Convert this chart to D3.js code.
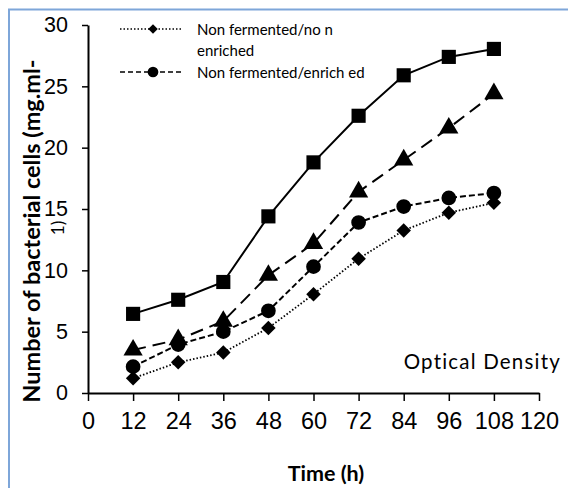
<!DOCTYPE html>
<html>
<head>
<meta charset="utf-8">
<script src="https://cdn.jsdelivr.net/npm/d3@7"></script>
<style>
  html, body { margin: 0; padding: 0; background: #fff; }
  svg { display: block; }
</style>
</head>
<body>
<svg id="chart" width="568" height="488"></svg>
<script>
// ---- data ----
const hours = [12, 24, 36, 48, 60, 72, 84, 96, 108];
const squareSeries   = [6.45, 7.6, 9.05, 14.4, 18.8, 22.6, 25.9, 27.4, 28.05];
const triangleSeries = [3.5, 4.35, 5.85, 9.6, 12.2, 16.4, 19.0, 21.6, 24.4];
const circleSeries   = [2.15, 3.95, 5.0, 6.7, 10.3, 13.9, 15.2, 15.9, 16.3];
const diamondSeries  = [1.2, 2.5, 3.3, 5.3, 8.05, 10.95, 13.25, 14.7, 15.5];
const xTicks = [0, 12, 24, 36, 48, 60, 72, 84, 96, 108, 120];
const yTicks = [0, 5, 10, 15, 20, 25, 30];
const legendLabels = [["Non fermented/no n", "enriched"], ["Non fermented/enrich ed"]];

const svg = d3.select("#chart");

// frame
svg.append("rect").attr("x", 9).attr("y", 9.5).attr("width", 700).attr("height", 700)
  .attr("fill", "none").attr("stroke", "#7ea6d9").attr("stroke-width", 2);

const x = d3.scaleLinear().domain([0, 120]).range([88, 539]);
const y = d3.scaleLinear().domain([0, 30]).range([393, 25]);

// axes
const xAxis = svg.append("g").attr("transform", "translate(0,393)")
  .call(d3.axisBottom(x).tickValues(xTicks).tickSize(8).tickPadding(11).tickSizeOuter(0));
xAxis.select(".domain").attr("stroke", "#000").attr("stroke-width", 2);
xAxis.selectAll(".tick line").attr("stroke", "#000").attr("stroke-width", 1.5);
xAxis.selectAll(".tick text").attr("font-family", "Liberation Sans, Arial, sans-serif")
  .attr("font-size", 23.5).attr("fill", "#000");

const yAxis = svg.append("g").attr("transform", "translate(88,0)")
  .call(d3.axisLeft(y).tickValues(yTicks).tickSize(6).tickPadding(14).tickSizeOuter(0));
yAxis.select(".domain").attr("stroke", "#000").attr("stroke-width", 2);
yAxis.selectAll(".tick text").attr("font-family", "Liberation Sans, Arial, sans-serif")
  .attr("font-size", 21.5).attr("fill", "#000");
yAxis.selectAll(".tick line").attr("stroke", "#000").attr("stroke-width", 1.5);

// series
const diamond = size => d3.symbol().type(d3.symbolSquare).size(size)();
const series = [
  { vals: squareSeries,   dash: null,    sym: d3.symbolSquare,   size: 200, w: 2, rot: 0 },
  { vals: triangleSeries, dash: "13,7",  sym: d3.symbolTriangle, size: 160, w: 2, rot: 0 },
  { vals: circleSeries,   dash: "6,3",   sym: d3.symbolCircle,   size: 170, w: 2, rot: 0 },
  { vals: diamondSeries,  dash: "1.5,2", sym: d3.symbolSquare,   size: 105, w: 1.8, rot: 45 }
];
const line = d3.line().x((d, i) => x(hours[i])).y(d => y(d));
series.forEach(s => {
  svg.append("path").datum(s.vals).attr("d", line).attr("fill", "none")
    .attr("stroke", "#000").attr("stroke-width", s.w)
    .attr("stroke-dasharray", s.dash);
  svg.append("g").selectAll("path").data(s.vals).join("path")
    .attr("transform", (d, i) => `translate(${x(hours[i])},${y(d)}) rotate(${s.rot})`)
    .attr("d", d3.symbol().type(s.sym).size(s.size)).attr("fill", "#000");
});

// legend
const lg = svg.append("g");
const legendItems = [
  { dash: "1.5,2", sym: d3.symbolSquare, rot: 45, size: 45, ly: 29, lines: legendLabels[0], base: [35, 56] },
  { dash: "5,3",   sym: d3.symbolCircle, rot: 0,  size: 90, ly: 72, lines: legendLabels[1], base: [78] }
];
legendItems.forEach(it => {
  lg.append("line").attr("x1", 120).attr("x2", 183).attr("y1", it.ly).attr("y2", it.ly)
    .attr("stroke", "#000").attr("stroke-width", 1.5).attr("stroke-dasharray", it.dash);
  lg.append("path").attr("transform", `translate(153,${it.ly}) rotate(${it.rot})`)
    .attr("d", d3.symbol().type(it.sym).size(it.size)).attr("fill", "#000");
  it.lines.forEach((t, k) => {
    lg.append("text").attr("x", 197).attr("y", it.base[k]).text(t)
      .attr("font-family", "Lato, sans-serif").attr("font-size", 15).attr("fill", "#000");
  });
});

// annotation
svg.append("text").attr("x", 561).attr("y", 369).attr("text-anchor", "end")
  .attr("font-family", "Lato, sans-serif").attr("font-size", 20.5)
  .attr("letter-spacing", 1.2).attr("fill", "#000").text("Optical Density");

// axis titles
svg.append("text").attr("x", 326).attr("y", 481).attr("text-anchor", "middle")
  .attr("font-family", "Lato, sans-serif").attr("font-weight", "bold").attr("font-size", 21.5)
  .attr("fill", "#000").text("Time (h)");

svg.append("text").attr("transform", "translate(40,231) rotate(-90)").attr("text-anchor", "middle")
  .attr("font-family", "Lato, sans-serif").attr("font-weight", "bold").attr("font-size", 23.5)
  .attr("fill", "#000").text("Number of bacterial cells (mg.ml-");
svg.append("text").attr("transform", "translate(64,228) rotate(-90)").attr("text-anchor", "middle")
  .attr("font-family", "Lato, sans-serif").attr("font-size", 17)
  .attr("fill", "#000").text("1)");
</script>
</body>
</html>
